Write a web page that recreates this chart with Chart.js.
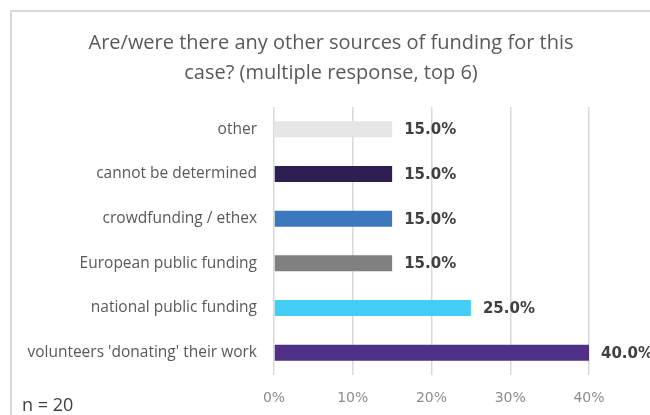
<!DOCTYPE html>
<html>
<head>
<meta charset="utf-8">
<script src="https://cdn.jsdelivr.net/npm/chart.js@4"></script>
<style>
  html, body { margin: 0; padding: 0; background: #fff; }
  #wrap { position: relative; width: 650px; height: 415px; overflow: hidden; }
  #frame {
    position: absolute; left: 10px; top: 10px; width: 700px; height: 450px;
    border: 2px solid #d9d9d9; box-sizing: border-box;
  }
  #chart { position: absolute; left: 0; top: 0; }
  #note {
    position: absolute; left: 22px; top: 392px;
    font: 18px "Open Sans", sans-serif; color: #404040;
  }
</style>
</head>
<body>
<div id="wrap">
  <div id="frame"></div>
  <canvas id="chart" width="650" height="415"></canvas>
  <div id="note">n = 20</div>
</div>
<script>
const titleLines = ["Are/were there any other sources of funding for this", "case? (multiple response, top 6)"];
const categories = ["other", "cannot be determined", "crowdfunding / ethex", "European public funding", "national public funding", "volunteers 'donating' their work"];
const shares = [15, 15, 15, 15, 25, 40];
const barColors = ["#e6e6e6", "#2e1f52", "#3b78bd", "#808080", "#44cdf5", "#4e3187"];
const tickValues = [0, 10, 20, 30, 40];

/* ================= TITLE ================= */
// drawn by hand so it centres on the whole frame, not on the padded layout box
const headline = {
    id: "headline",
    afterDraw(chart) {
        const ctx = chart.ctx;
        ctx.save();
        ctx.font = "20px 'Open Sans', sans-serif";
        ctx.fillStyle = "#595959";
        ctx.textAlign = "center";
        ctx.textBaseline = "middle";
        titleLines.forEach((line, i) => ctx.fillText(line, 331, 43 + i * 30));
        ctx.restore();
    }
};

/* ================= VALUE LABELS ================= */
const valueLabels = {
    id: "valueLabels",
    afterDatasetsDraw(chart) {
        const ctx = chart.ctx;
        const meta = chart.getDatasetMeta(0);
        ctx.save();
        ctx.font = "bold 15px 'DejaVu Sans', Verdana, sans-serif";
        ctx.fillStyle = "#404040";
        ctx.textAlign = "left";
        ctx.textBaseline = "middle";
        meta.data.forEach((bar, i) => {
            ctx.fillText(shares[i].toFixed(1) + "%", bar.x + 12, bar.y + 1);
        });
        ctx.restore();
    }
};

new Chart(document.getElementById("chart"), {
    type: "bar",
    data: {
        labels: categories,
        datasets: [{
            data: shares,
            backgroundColor: barColors,
            categoryPercentage: 0.8,
            barPercentage: 0.45
        }]
    },
    options: {
        indexAxis: "y",
        responsive: false,
        animation: false,
        layout: { padding: { left: 0, right: 61, top: 107, bottom: 0 } },
        plugins: {
            legend: { display: false },
            tooltip: { enabled: false },
            title: { display: false }
        },
        scales: {
            x: {
                min: 0,
                max: 40,
                afterBuildTicks: axis => { axis.ticks = tickValues.map(v => ({ value: v })); },
                afterFit: axis => { axis.height = 40; },
                grid: { color: "#d9d9d9", lineWidth: 1.5, drawTicks: false },
                border: { display: false },
                ticks: {
                    padding: 15,
                    color: "#8c8c8c",
                    font: { family: "'DejaVu Sans', Verdana, sans-serif", size: 14 },
                    callback: v => v + "%"
                }
            },
            y: {
                afterFit: axis => { axis.width = 274; },
                grid: { display: false, drawTicks: false },
                border: { display: false },
                ticks: {
                    padding: 17,
                    color: "#595959",
                    font: { family: "'Open Sans', sans-serif", size: 15.5 }
                }
            }
        }
    },
    plugins: [headline, valueLabels]
});
</script>
</body>
</html>
